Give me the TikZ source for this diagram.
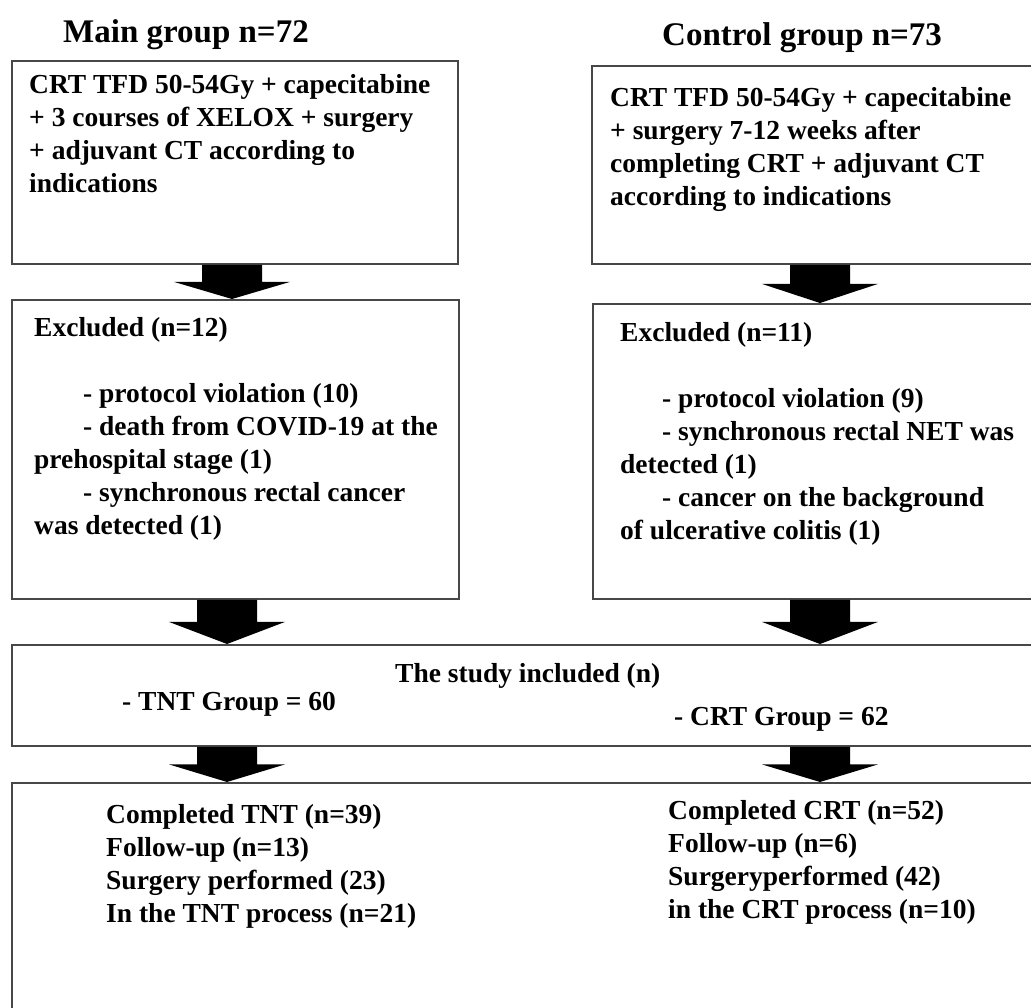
\documentclass[tikz,border=0pt]{standalone}
\usepackage{fontspec}
\setmainfont{Liberation Serif}
\usetikzlibrary{calc}
\tikzset{
  box/.style={draw=black!72, line width=1.8pt, rectangle, inner sep=0pt, anchor=north west},
  txt/.style={inner sep=0pt, anchor=north west, yshift=23.1pt, align=left,
    font=\fontsize{27.5}{33}\selectfont\bfseries, execute at begin node=\strut},
  line/.style={inner sep=0pt, anchor=base west, font=\fontsize{27.5}{33}\selectfont\bfseries},
  ttl/.style={inner sep=0pt, anchor=base west, font=\fontsize{33}{40}\selectfont\bfseries},
  arrowfill/.style={fill=black},
}
% block arrow from node #1 (bottom) to node #2 (top), centred at x = #3 (pt)
\newcommand\blockarr[3]{%
  \fill[arrowfill] let \p1=(#1.south), \p2=(#2.north), \p3=($(#1.south)!0.5!(#2.north)$) in
    ({#3pt-30pt},\y1) -- ({#3pt+30pt},\y1) -- ({#3pt+30pt},\y3) -- ({#3pt+58pt},\y3)
    -- ({#3pt},\y2) -- ({#3pt-58pt},\y3) -- ({#3pt-30pt},\y3) -- cycle;}
\begin{document}
\begin{tikzpicture}[x=1pt,y=-1pt]
\useasboundingbox (0,0) rectangle (1031,1007);
\clip (0,0) rectangle (1031,1007);
\fill[white] (0,0) rectangle (1031,1007);

% titles
\node[ttl] (t1) at (63,42) {Main group n=72};
\node[ttl] (t2) at (662,45) {Control group n=73};

% boxes
\node[box, minimum width=446pt, minimum height=203pt] (b1) at (11,60) {};
\node[box, minimum width=449pt, minimum height=198pt] (b2) at (591,65) {};
\node[box, minimum width=447pt, minimum height=299pt] (b3) at (11,299) {};
\node[box, minimum width=448pt, minimum height=295pt] (b4) at (592,303) {};
\node[box, minimum width=1029pt, minimum height=101pt] (st) at (11,644) {};
\node[box, minimum width=1029pt, minimum height=240pt] (bt) at (11,782) {};

% texts
\node[txt] (b1t) at (29,97) {CRT TFD 50-54Gy + capecitabine\\+ 3 courses of XELOX + surgery\\+ adjuvant CT according to\\indications};
\node[txt] (b2t) at (610,110) {CRT TFD 50-54Gy + capecitabine\\+ surgery 7-12 weeks after\\completing CRT + adjuvant CT\\according to indications};
\node[txt] (b3t) at (34,340) {Excluded (n=12)\\[33pt]\hspace*{49pt}- protocol violation (10)\\\hspace*{49pt}- death from COVID-19 at the\\prehospital stage (1)\\\hspace*{49pt}- synchronous rectal cancer\\was detected (1)};
\node[txt] (b4t) at (620,345) {Excluded (n=11)\\[33pt]\hspace*{42pt}- protocol violation (9)\\\hspace*{42pt}- synchronous rectal NET was\\detected (1)\\\hspace*{42pt}- cancer on the background\\of ulcerative colitis (1)};
\node[line] (st1) at (395,682) {The study included (n)};
\node[line] (st2) at (122,710) {- TNT Group = 60};
\node[line] (st3) at (674,725) {- CRT Group = 62};
\node[txt] (btl) at (106,827) {Completed TNT (n=39)\\Follow-up (n=13)\\Surgery performed (23)\\In the TNT process (n=21)};
\node[txt] (btr) at (668,823) {Completed CRT (n=52)\\Follow-up (n=6)\\Surgeryperformed (42)\\in the CRT process (n=10)};

% block arrows
\blockarr{b1}{b3}{232}
\blockarr{b2}{b4}{820}
\blockarr{b3}{st}{227}
\blockarr{b4}{st}{820}
\blockarr{st}{bt}{227}
\blockarr{st}{bt}{820}
\end{tikzpicture}
\end{document}
